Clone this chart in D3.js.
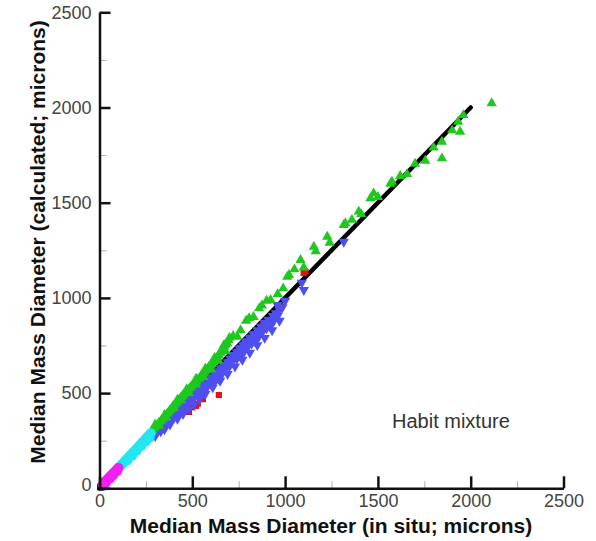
<!DOCTYPE html>
<html>
<head>
<meta charset="utf-8">
<script src="https://cdn.jsdelivr.net/npm/d3@7"></script>
<style>
  html, body { margin: 0; padding: 0; background: #fff; }
  svg { display: block; font-family: "Liberation Sans", Arial, Helvetica, sans-serif; }
</style>
</head>
<body>
<svg id="chart" width="596" height="541"></svg>
<script>
// Median mass diameter: in situ (x) vs calculated (y), microns
const majorTicks = [0, 500, 1000, 1500, 2000, 2500];
const minorTicks = [250, 750, 1250, 1750, 2250];
const oneToOne = [[0, 0], [2000, 2000]];

const blackPts = [[4, 5], [9, 8], [14, 13], [20, 18], [6, 12], [12, 4], [24, 24]];

const magentaPts = [[18, 20], [24, 27], [30, 33], [36, 40], [42, 46], [48, 52], [54, 58], [60, 64],
  [66, 70], [72, 77], [78, 83], [84, 88], [90, 95], [96, 101], [102, 107], [35, 30], [55, 50],
  [75, 72], [95, 90], [28, 26], [65, 62]];

const cyanPts = [[108, 113], [116, 121], [124, 129], [132, 137], [140, 146], [148, 154], [156, 162],
  [164, 170], [172, 179], [180, 187], [188, 195], [196, 204], [204, 212], [212, 221], [220, 229],
  [228, 238], [236, 246], [244, 254], [252, 263], [260, 272], [268, 280], [276, 289],
  [150, 146], [175, 170], [200, 196], [225, 222], [250, 246], [270, 266]];

const greenPts = [[255, 268], [265, 280], [275, 292], [285, 302], [295, 315], [305, 326], [312, 330],
  [320, 345], [330, 352], [340, 362], [348, 375], [355, 380], [365, 392], [372, 400], [380, 410],
  [388, 418], [395, 430], [402, 435], [410, 445], [418, 452], [425, 462], [432, 468], [440, 478],
  [448, 485], [455, 495], [462, 500], [470, 508], [478, 515], [485, 525], [492, 530], [500, 540],
  [508, 548], [515, 555], [522, 562], [530, 570], [538, 578], [545, 588], [552, 595], [560, 602],
  [568, 612], [575, 620], [582, 628], [590, 638], [598, 645], [605, 652], [612, 662], [620, 670],
  [628, 680], [635, 690], [642, 700], [650, 712], [658, 720], [665, 735], [672, 745], [680, 755],
  [688, 762], [695, 778], [700, 790],
  [300, 335], [350, 385], [420, 465], [470, 520], [520, 575], [570, 628], [620, 685], [670, 752],
  [320, 330], [360, 372], [400, 420], [440, 462], [480, 500], [520, 545], [560, 585], [600, 625],
  [640, 672], [680, 720],
  [720, 800], [743, 796], [760, 830], [790, 880], [806, 893], [830, 900], [860, 945], [875, 960],
  [900, 985], [922, 989], [960, 1020], [990, 1050], [1012, 1111], [1021, 1120], [1050, 1150],
  [1083, 1199], [1100, 1160], [1155, 1269], [1165, 1245], [1227, 1321], [1240, 1290], [1316, 1383],
  [1325, 1392], [1360, 1410], [1397, 1453], [1410, 1440], [1460, 1523], [1477, 1549], [1500, 1530],
  [1567, 1600], [1576, 1610], [1620, 1640], [1657, 1650], [1700, 1705], [1755, 1720], [1800, 1790],
  [1845, 1820], [1845, 1733], [1900, 1880], [1932, 1925], [1943, 1873], [1960, 1960], [2113, 2022]];

const bluePts = [[270, 268], [280, 272], [290, 285], [300, 290], [305, 300], [315, 300], [320, 312],
  [330, 318], [335, 328], [345, 330], [350, 342], [360, 348], [365, 355], [375, 358], [380, 370],
  [390, 372], [395, 385], [405, 388], [410, 398], [420, 400], [425, 410], [435, 412], [440, 425],
  [450, 428], [455, 438], [465, 440], [470, 455], [480, 455], [485, 468], [495, 470], [500, 482],
  [510, 482], [515, 495], [525, 495], [530, 508], [540, 510], [545, 522], [555, 524], [560, 535],
  [570, 538], [575, 550], [585, 552], [590, 565], [600, 568], [605, 580], [615, 582], [620, 595],
  [630, 598], [640, 612], [650, 615], [655, 628], [665, 630], [670, 645], [680, 648], [690, 662],
  [700, 665], [705, 680], [715, 682], [720, 698], [730, 700], [740, 715], [750, 718], [755, 735],
  [765, 738], [775, 752], [785, 755], [790, 770], [800, 772], [810, 790], [820, 792], [830, 808],
  [840, 810], [850, 830], [860, 828], [870, 848], [880, 845], [890, 870], [900, 862], [910, 885],
  [920, 880], [935, 905], [950, 920], [958, 963], [970, 935], [985, 950], [1000, 985],
  [330, 300], [360, 330], [400, 370], [430, 395], [460, 420], [500, 460], [530, 490], [560, 515],
  [600, 555], [640, 590], [680, 630], [720, 670], [760, 705], [800, 745], [840, 790], [880, 825],
  [920, 860], [960, 905],
  [300, 275], [350, 310], [380, 335], [420, 365], [450, 390], [480, 415], [510, 440], [540, 468],
  [570, 495], [610, 530], [650, 565], [690, 600], [730, 640], [770, 675], [810, 712], [850, 752],
  [890, 790], [930, 830], [970, 880],
  [545, 490], [580, 530], [620, 560], [640, 575], [660, 600], [700, 640], [740, 680], [760, 690],
  [780, 720], [820, 760], [840, 770], [860, 800], [900, 840], [920, 850], [940, 880],
  [1101, 1041], [1090, 1080], [1316, 1295]];

const redPts = [[482, 401], [520, 433], [557, 468], [643, 490], [470, 420], [500, 425], [530, 445],
  [600, 560], [700, 650], [780, 760], [978, 954], [1100, 1131], [1110, 1138], [880, 860]];

const xTitle = "Median Mass Diameter (in situ; microns)";
const yTitle = "Median Mass Diameter (calculated; microns)";
const annotation = "Habit mixture";

const svg = d3.select("#chart");
const x = d3.scaleLinear().domain([0, 2500]).range([99.5, 563.5]);
const y = d3.scaleLinear().domain([0, 2500]).range([488.3, 12.3]);
const fmt = d3.format("d");

// 1:1 reference line
svg.append("line")
  .attr("x1", x(oneToOne[0][0])).attr("y1", y(oneToOne[0][1]))
  .attr("x2", x(oneToOne[1][0])).attr("y2", y(oneToOne[1][1]))
  .attr("stroke", "#000").attr("stroke-width", 4.5).attr("stroke-linecap", "round");

function drawSeries(pts, type, size, color, rotate) {
  const sym = d3.symbol().type(type).size(size);
  svg.append("g").selectAll("path").data(pts).join("path")
    .attr("d", sym)
    .attr("transform", d => `translate(${x(d[0])},${y(d[1])})` + (rotate ? " rotate(180)" : ""))
    .attr("fill", color);
}

drawSeries(blackPts, d3.symbolSquare, 36, "#000", false);
drawSeries(redPts, d3.symbolSquare, 38, "#dd1111", false);
drawSeries(bluePts, d3.symbolTriangle, 46, "#4e4ef2", true);
drawSeries(greenPts, d3.symbolTriangle, 46, "#1ec81e", false);
drawSeries(cyanPts, d3.symbolCircle, 80, "#22e6f0", false);
drawSeries(magentaPts, d3.symbolCircle, 80, "#f020f0", false);

// Axes: major ticks point inward, minor ticks shorter and grey
const xAxis = svg.append("g").attr("transform", `translate(0,${y(0)})`);
xAxis.call(d3.axisBottom(x).tickValues(minorTicks).tickSize(-7).tickFormat(""))
  .call(g => g.select(".domain").remove())
  .call(g => g.selectAll("line").attr("stroke", "#aaa").attr("stroke-width", 1));
const xAxisMajor = svg.append("g").attr("transform", `translate(0,${y(0)})`);
xAxisMajor.call(d3.axisBottom(x).tickValues(majorTicks).tickFormat(fmt).tickSize(-12).tickSizeOuter(0).tickPadding(6))
  .call(g => g.select(".domain").attr("stroke", "#111").attr("stroke-width", 2.5))
  .call(g => g.selectAll("line").attr("stroke", "#111").attr("stroke-width", 2.5))
  .call(g => g.selectAll("text").attr("font-size", 18).attr("fill", "#444").attr("font-family", "Liberation Sans, Arial, sans-serif"));

const yAxis = svg.append("g").attr("transform", `translate(${x(0)},0)`);
yAxis.call(d3.axisLeft(y).tickValues(minorTicks).tickSize(-7).tickFormat(""))
  .call(g => g.select(".domain").remove())
  .call(g => g.selectAll("line").attr("stroke", "#aaa").attr("stroke-width", 1));
const yAxisMajor = svg.append("g").attr("transform", `translate(${x(0)},0)`);
yAxisMajor.call(d3.axisLeft(y).tickValues(majorTicks).tickFormat(fmt).tickSize(-11).tickSizeOuter(0).tickPadding(8))
  .call(g => g.select(".domain").attr("stroke", "#111").attr("stroke-width", 2.5))
  .call(g => g.selectAll("line").attr("stroke", "#111").attr("stroke-width", 2.5))
  .call(g => g.selectAll("text").attr("font-size", 18).attr("fill", "#444").attr("font-family", "Liberation Sans, Arial, sans-serif"));
// the origin label on the y axis sits slightly higher
yAxisMajor.selectAll(".tick").filter(d => d === 0).select("text").attr("dy", "0.1em");

// Axis titles
svg.append("text")
  .attr("x", 331).attr("y", 533)
  .attr("text-anchor", "middle")
  .attr("font-size", 21).attr("font-weight", "bold").attr("fill", "#111")
  .text(xTitle);
svg.append("text")
  .attr("transform", "translate(45,242) rotate(-90)")
  .attr("text-anchor", "middle")
  .attr("font-size", 21).attr("font-weight", "bold").attr("fill", "#111")
  .text(yTitle);

// Annotation
svg.append("text")
  .attr("x", 392).attr("y", 428)
  .attr("font-size", 20).attr("fill", "#333")
  .text(annotation);
</script>
</body>
</html>
